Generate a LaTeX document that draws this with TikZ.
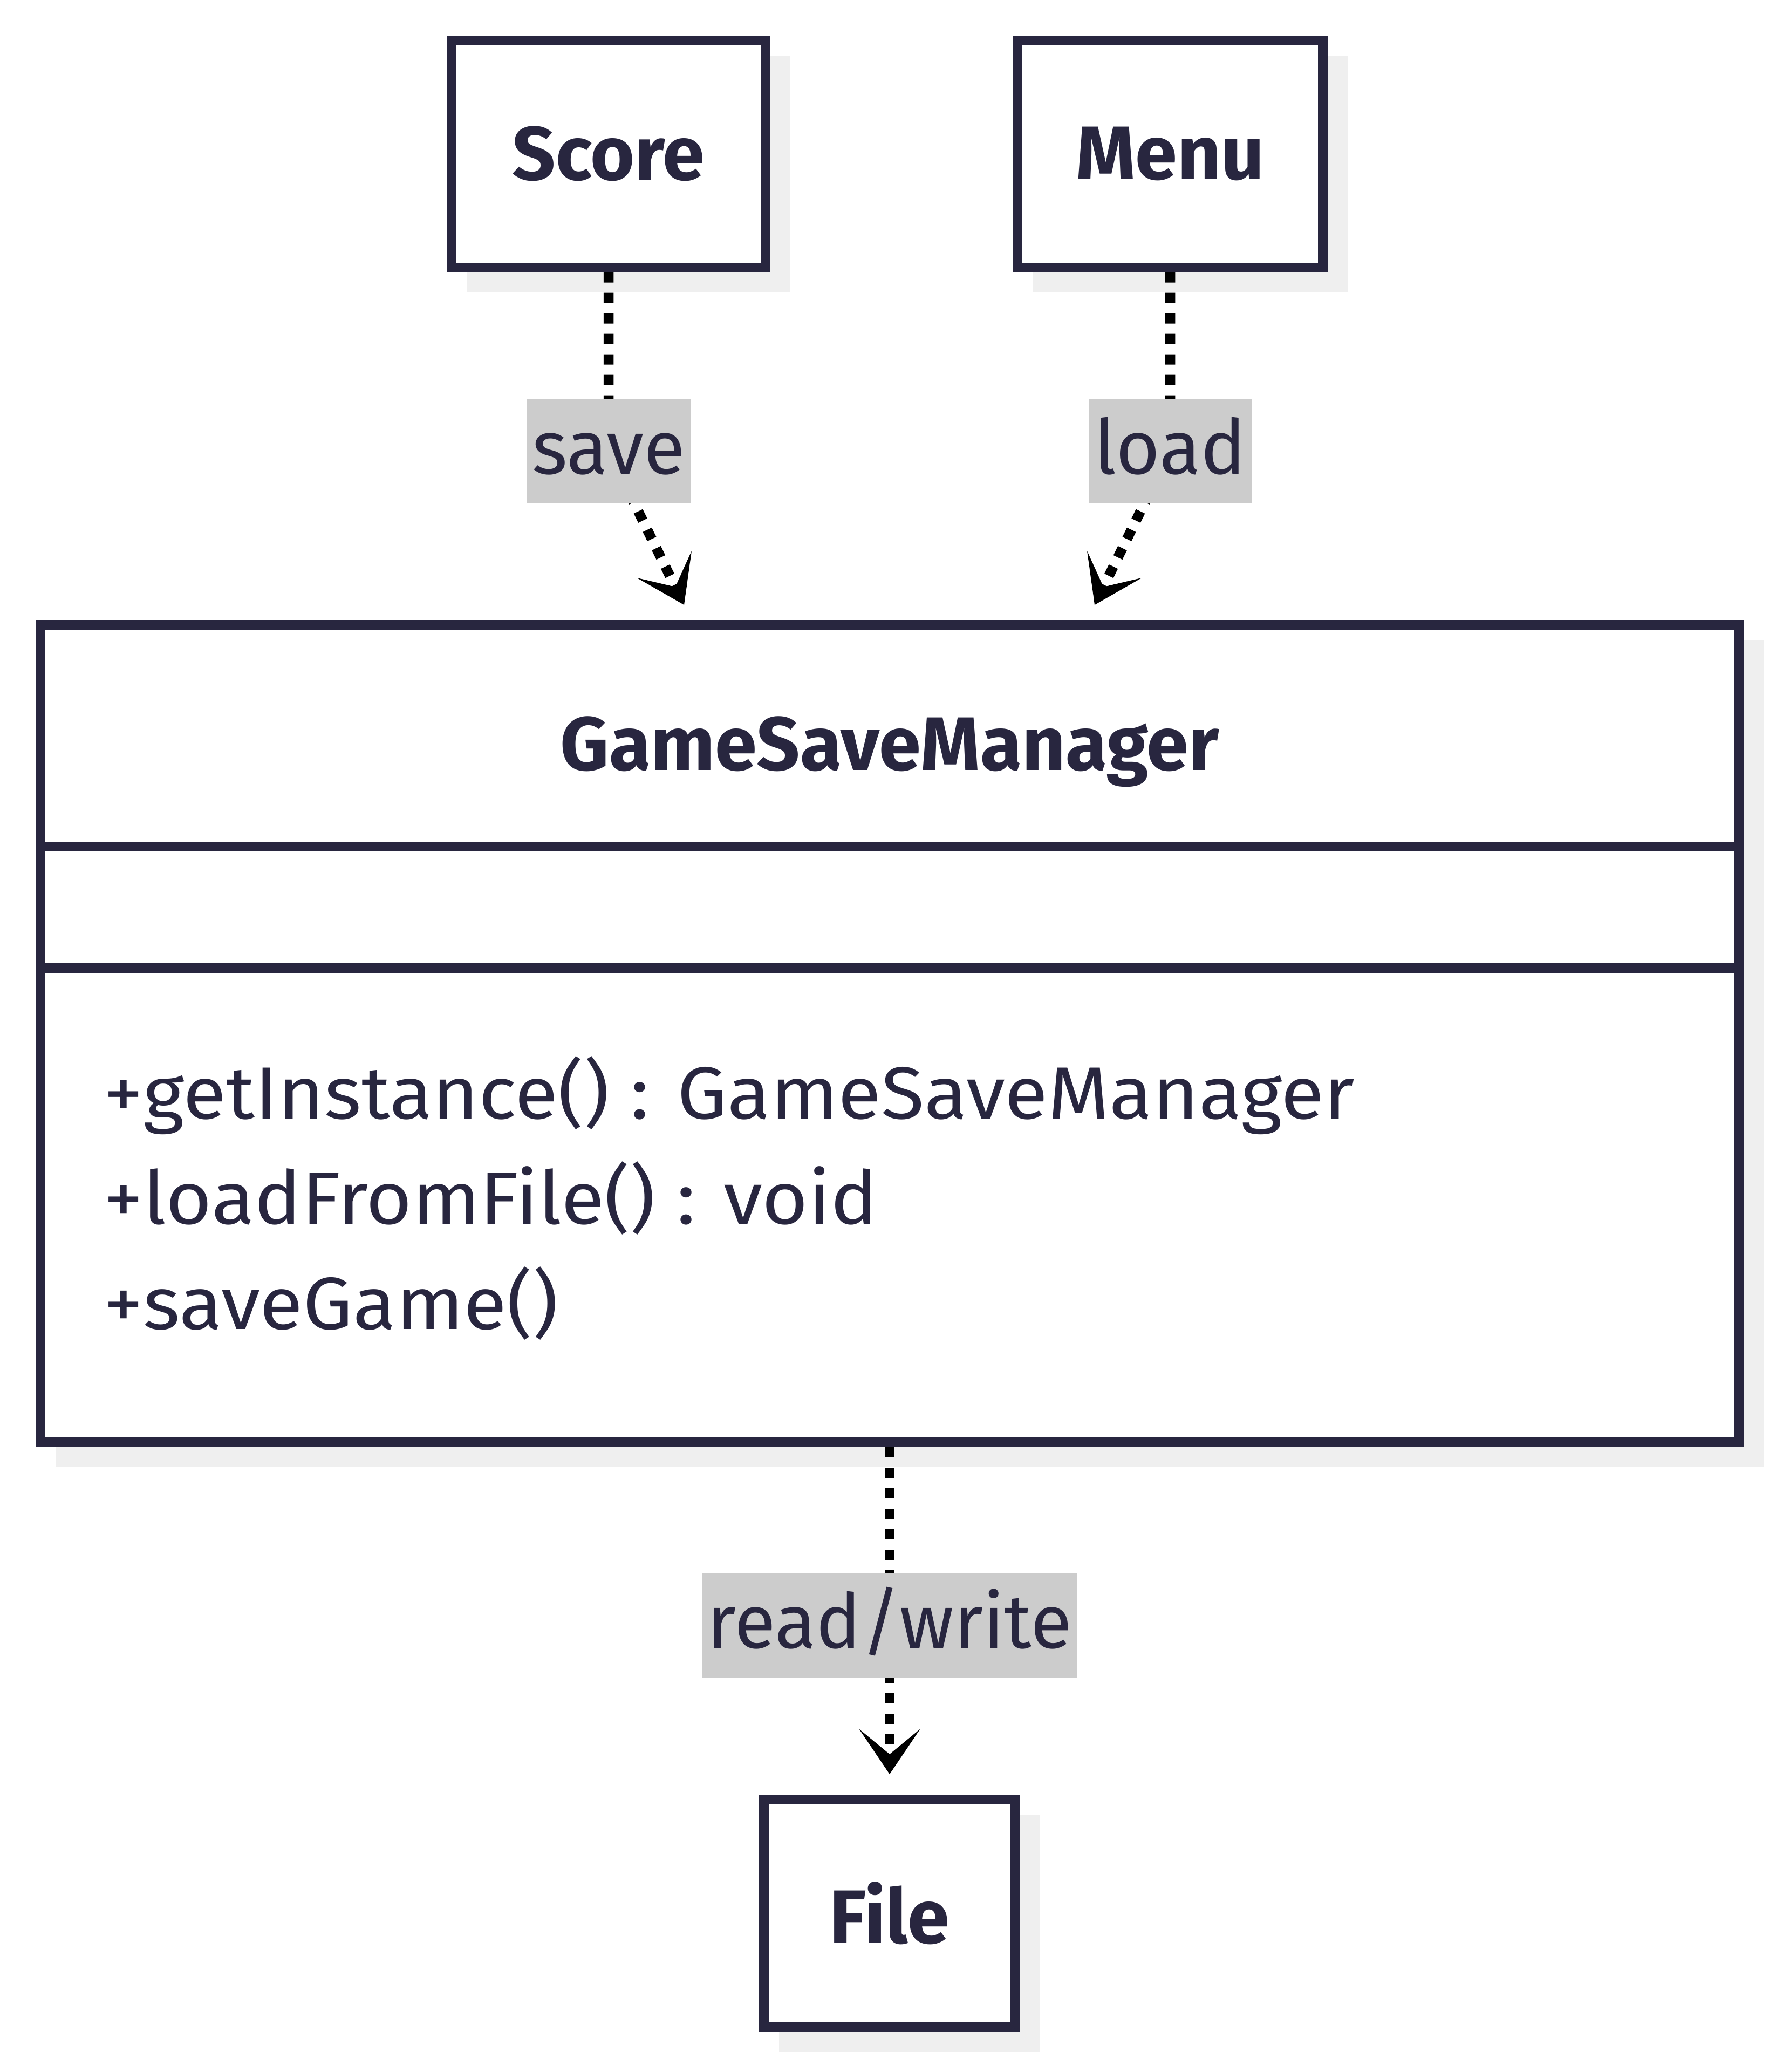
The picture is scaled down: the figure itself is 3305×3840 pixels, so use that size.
\documentclass[tikz,border=0pt]{standalone}
\usepackage{fontspec}
\setmainfont{Fira Sans}
\newfontfamily\opfont[FakeStretch=1.07]{Fira Sans}
\usetikzlibrary{
  arrows.meta,
  positioning,
  shadows
}
\definecolor{gsInk}{HTML}{28263F}
\definecolor{gsShade}{HTML}{EFEFEF}
\definecolor{gsTag}{HTML}{CCCCCC}
\tikzset{
  every node/.style={font=\fontsize{40}{48}\selectfont, text=gsInk},
  classbox/.style={
    draw=gsInk,
    line width=1.8mm,
    fill=white,
    inner sep=0pt,
    general shadow={fill=gsShade, draw=gsShade, shadow xshift=3.7mm, shadow yshift=-3.7mm},
    font=\fontsize{40}{48}\selectfont\bfseries
  },
  divider/.style={
    draw=gsInk,
    line width=1.8mm
  },
  operation/.style={
    anchor=base west,
    font=\opfont\fontsize{39}{47}\selectfont
  },
  tag/.style={
    fill=gsTag,
    inner xsep=1mm,
    inner ysep=0pt,
    minimum height=19.4mm,
    text height=11.4mm,
    text depth=2.8mm
  },
  dep/.style={
    -{Stealth[length=8.3mm,width=11.2mm,inset=4.6mm]},
    line width=1.85mm,
    draw=black,
    dash pattern=on 1.9mm off 1.9mm
  }
}

\begin{document}
\begin{tikzpicture}[x=0.1mm, y=-0.1mm]
  \useasboundingbox (0,0) rectangle (3305,3840);

  % classes
  \node[classbox, minimum width=58.2mm, minimum height=42.1mm] (score) at (1128,285) {Score};
  \node[classbox, minimum width=56.6mm, minimum height=42.1mm] (menu) at (2169,285) {Menu};
  \node[classbox, minimum width=314.8mm, minimum height=151.5mm] (gsm) at (1649,1915) {};
  \node[classbox, minimum width=46.6mm, minimum height=42.2mm] (file) at (1649,3546) {File};

  % compartments of the manager
  \draw[divider] ([yshift=-42mm]gsm.north west) -- ([yshift=-42mm]gsm.north east);
  \draw[divider] ([yshift=-64.5mm]gsm.north west) -- ([yshift=-64.5mm]gsm.north east);
  \node[anchor=base, font=\fontsize{40}{48}\selectfont\bfseries] (gsmTitle) at (1649,1427) {GameSaveManager};

  \foreach \i/\op in {
    0/{+getInstance() : GameSaveManager},
    1/{+loadFromFile() : void},
    2/{+saveGame()}
  }{
    \node[operation] (op\i) at (180,{2073+\i*195}) {\op};
  }

  % dependencies
  \coordinate (saveIn) at (1268,1121);
  \coordinate (loadIn) at (2029,1121);
  \draw[dep] (score.south) -- ++(0,331) node[tag] (save) {save} -- (saveIn);
  \draw[dep] (menu.south) -- ++(0,331) node[tag] (load) {load} -- (loadIn);
  \draw[dep, shorten >=3.8mm] (gsm.south) -- ++(0,330) node[tag] (rw) {read/write} -- (file.north);
\end{tikzpicture}
\end{document}
